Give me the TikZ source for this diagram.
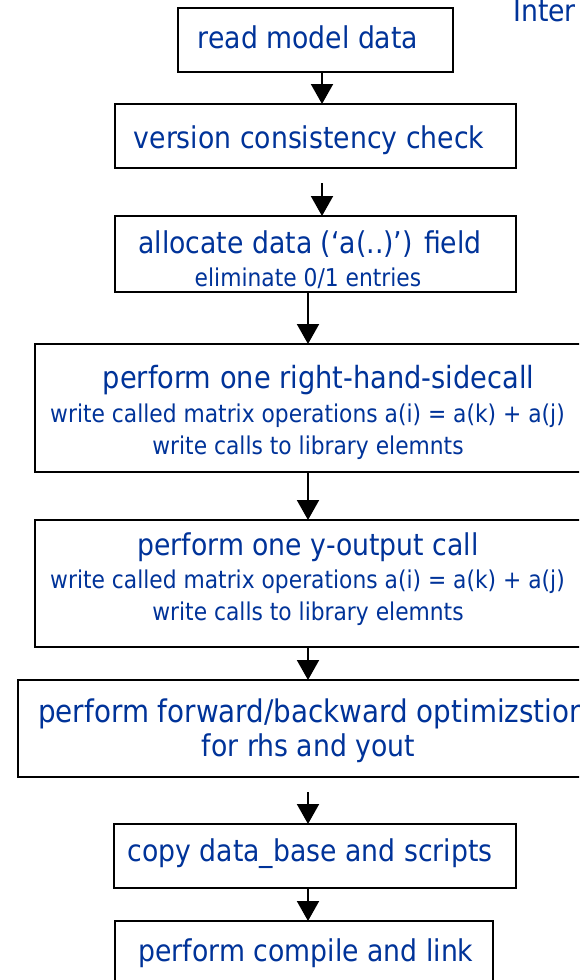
\documentclass[tikz,border=0pt]{standalone}
\usepackage{fontspec}
\setmainfont[FakeStretch=0.89]{DejaVu Sans}
\usetikzlibrary{arrows.meta}
\definecolor{txtblue}{RGB}{0,51,153}
\begin{document}
\begin{tikzpicture}[x=1pt,y=-1pt,
  box/.style={draw=black, line width=2pt, inner sep=0pt, outer sep=0pt, fill=white},
  maintxt/.style={anchor=base, text=txtblue, inner sep=0pt, font=\fontsize{30}{36}\selectfont},
  subtxt/.style={anchor=base, text=txtblue, inner sep=0pt, font=\fontsize{24.5}{29}\selectfont},
  arr/.style={draw=black, line width=2pt, -{Triangle[width=22pt,length=20pt]}}]
\useasboundingbox (0,0) rectangle (579,980);
\clip (0,0) rectangle (579,980);
\fill[white] (0,0) rectangle (579,980);

% boxes
\node[box, minimum width=275pt, minimum height=64pt] (b1) at (315.5,40) {};
\node[box, minimum width=401pt, minimum height=64pt] (b2) at (315.5,136) {};
\node[box, minimum width=401pt, minimum height=76pt] (b3) at (315.5,254) {};
\node[box, minimum width=548pt, minimum height=128pt] (b4) at (308.5,408) {};
\node[box, minimum width=548pt, minimum height=127pt] (b5) at (308.5,583.5) {};
\node[box, minimum width=581pt, minimum height=97pt] (b6) at (308.5,728.5) {};
\node[box, minimum width=402pt, minimum height=64pt] (b7) at (315,856) {};
\node[box, minimum width=378pt, minimum height=64pt] (b8) at (304,953) {};

% texts
\node[maintxt] (t1) at (308,48) {read model data};
\node[maintxt] (t2) at (309,148) {version consistency check};
\node[maintxt] (t3) at (310,253) {allocate data (‘a(..)’) field};
\node[subtxt] (t3s) at (308,286) {eliminate 0/1 entries};
\node[maintxt, font=\fontsize{30.6}{36}\selectfont] (t4) at (318.5,388) {perform one right-hand-sidecall};
\node[subtxt] (t4s) at (307.5,422) {write called matrix operations a(i) = a(k) + a(j)};
\node[subtxt] (t4t) at (308,454) {write calls to library elemnts};
\node[maintxt] (t5) at (308,555) {perform one y-output call};
\node[subtxt] (t5s) at (307.5,588) {write called matrix operations a(i) = a(k) + a(j)};
\node[subtxt] (t5t) at (308,620) {write calls to library elemnts};
\node[maintxt, anchor=base west, font=\fontsize{31.2}{36}\selectfont] (t6) at (38,722) {perform forward/backward optimizstion};
\node[maintxt] (t6s) at (308.5,756) {for rhs and yout};
\node[maintxt] (t7) at (310,861) {copy data\_base and scripts};
\node[maintxt] (t8) at (306,961) {perform compile and link};
\node[anchor=base west, text=txtblue, inner sep=0pt, font=\fontsize{30}{36}\selectfont] (inter) at (513,21) {Inter};

% arrow columns
\coordinate (xa) at (322,0);
\coordinate (xb) at (308,0);

% connectors
\draw[arr] (b1.south -| xa) -- (b2.north -| xa);
\draw[arr] ([yshift=-15pt]b2.south -| xa) -- (b3.north -| xa);
\draw[arr] (b3.south -| xb) -- (b4.north -| xb);
\draw[arr] (b4.south -| xb) -- (b5.north -| xb);
\draw[arr] (b5.south -| xb) -- (b6.north -| xb);
\draw[arr] ([yshift=-15pt]b6.south -| xb) -- (b7.north -| xb);
\draw[arr] (b7.south -| xb) -- (b8.north -| xb);
\end{tikzpicture}
\end{document}
